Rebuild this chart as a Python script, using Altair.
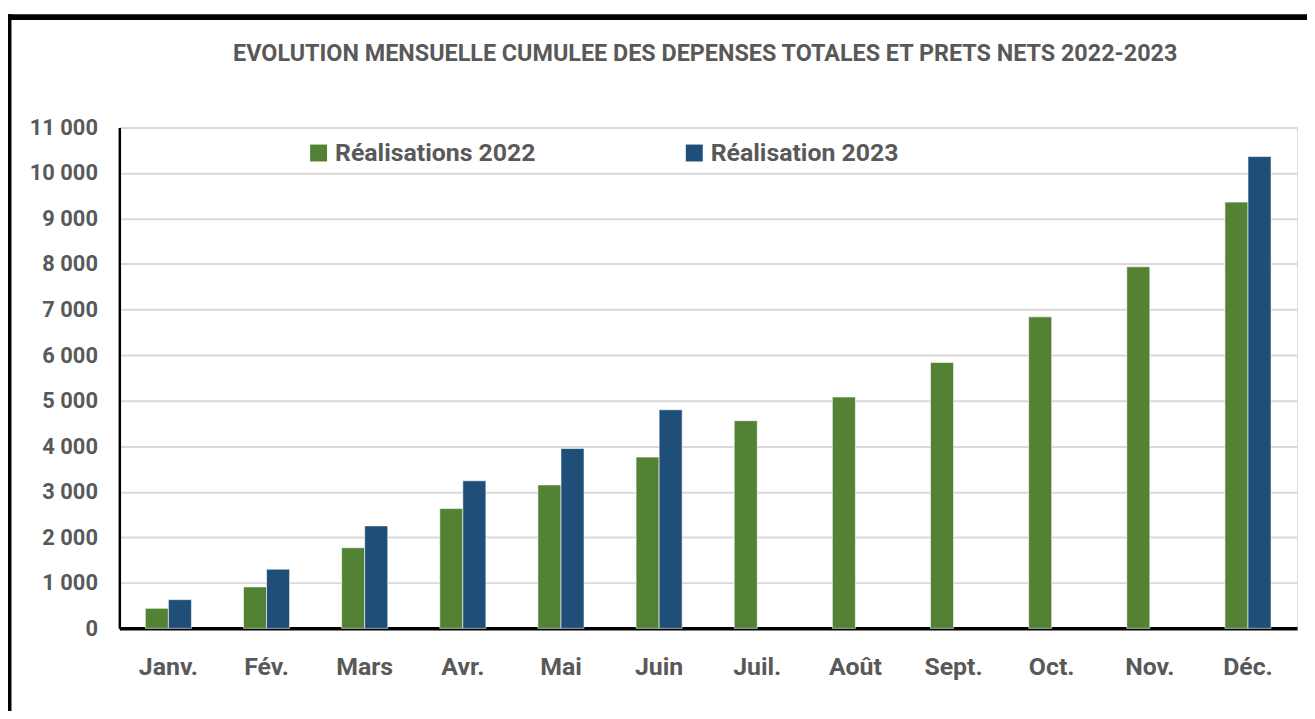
import altair as alt
import pandas as pd

months = ["Janv.", "Fév.", "Mars", "Avr.", "Mai", "Juin", "Juil.", "Août", "Sept.", "Oct.", "Nov.", "Déc."]
real_2022 = [440, 910, 1770, 2630, 3150, 3760, 4560, 5080, 5840, 6840, 7940, 9360]
real_2023 = [630, 1300, 2250, 3240, 3950, 4800, None, None, None, None, None, 10360]
series = ["Réalisations 2022", "Réalisation 2023"]
colors = ["#548235", "#1F4E79"]
y_ticks = list(range(0, 11001, 1000))
title_text = "EVOLUTION MENSUELLE CUMULEE DES DEPENSES TOTALES ET PRETS NETS 2022-2023"

rows = []
for i, m in enumerate(months):
    rows.append({"mois": m, "serie": series[0], "valeur": real_2022[i]})
    rows.append({"mois": m, "serie": series[1], "valeur": real_2023[i]})
df = pd.DataFrame(rows)

FONT = "Roboto, sans-serif"
GRAY = "#595959"
W, H = 1185, 504

bars = alt.Chart(df).mark_bar(stroke="white", strokeWidth=0.6).encode(
    x=alt.X("mois:N", sort=months, title=None,
            scale=alt.Scale(paddingInner=0.53, paddingOuter=0.265),
            axis=alt.Axis(labelAngle=0, labelFont=FONT, labelFontSize=25, labelFontWeight="bold",
                          labelColor=GRAY, labelPadding=26, ticks=False, domain=True,
                          domainColor="black", domainWidth=3.5, grid=False)),
    xOffset=alt.XOffset("serie:N", sort=series, scale=alt.Scale(domain=series)),
    y=alt.Y("valeur:Q", title=None,
            scale=alt.Scale(domain=[0, 11000], nice=False),
            axis=alt.Axis(values=y_ticks, labelFont=FONT, labelFontSize=22, labelFontWeight="bold",
                          labelColor=GRAY, labelPadding=22, ticks=False, domain=True,
                          domainColor="black", domainWidth=2.5, grid=True,
                          gridColor="#D9D9D9", gridWidth=2,
                          labelExpr="replace(format(datum.value, ',d'), ',', ' ')")),
    color=alt.Color("serie:N", sort=series,
                    scale=alt.Scale(domain=series, range=colors),
                    legend=alt.Legend(title=None, orient="none", legendX=188, legendY=13,
                                      direction="horizontal", columns=2, columnPadding=147,
                                      symbolType="square", symbolSize=290, symbolStrokeWidth=0,
                                      labelFont=FONT, labelFontSize=25, labelFontWeight="bold",
                                      labelColor=GRAY, labelLimit=400, labelOffset=4, padding=0)),
)

frame_df = pd.DataFrame({"k": [0]})
top_border = alt.Chart(frame_df).mark_rule(color="black", strokeWidth=6).encode(
    x=alt.value(-113), x2=alt.value(1250), y=alt.value(-111))
left_border = alt.Chart(frame_df).mark_rule(color="black", strokeWidth=5).encode(
    x=alt.value(-111), y=alt.value(-114), y2=alt.value(620))

title_df = pd.DataFrame({"t": [title_text]})
title_mark = alt.Chart(title_df).mark_text(
    font=FONT, fontSize=23.5, fontWeight="bold", color=GRAY, align="center", baseline="middle"
).encode(text="t:N", x=alt.value(W / 2 - 3), y=alt.value(-74))

chart = alt.layer(bars, top_border, left_border, title_mark).properties(
    width=W, height=H,
    autosize=alt.AutoSizeParams(type="none"),
    padding={"left": 112, "top": 118, "right": 10, "bottom": 81},
).configure_view(stroke=None).configure(background="white")

chart.save("out.html", embed_options={"renderer": "svg", "actions": False})
